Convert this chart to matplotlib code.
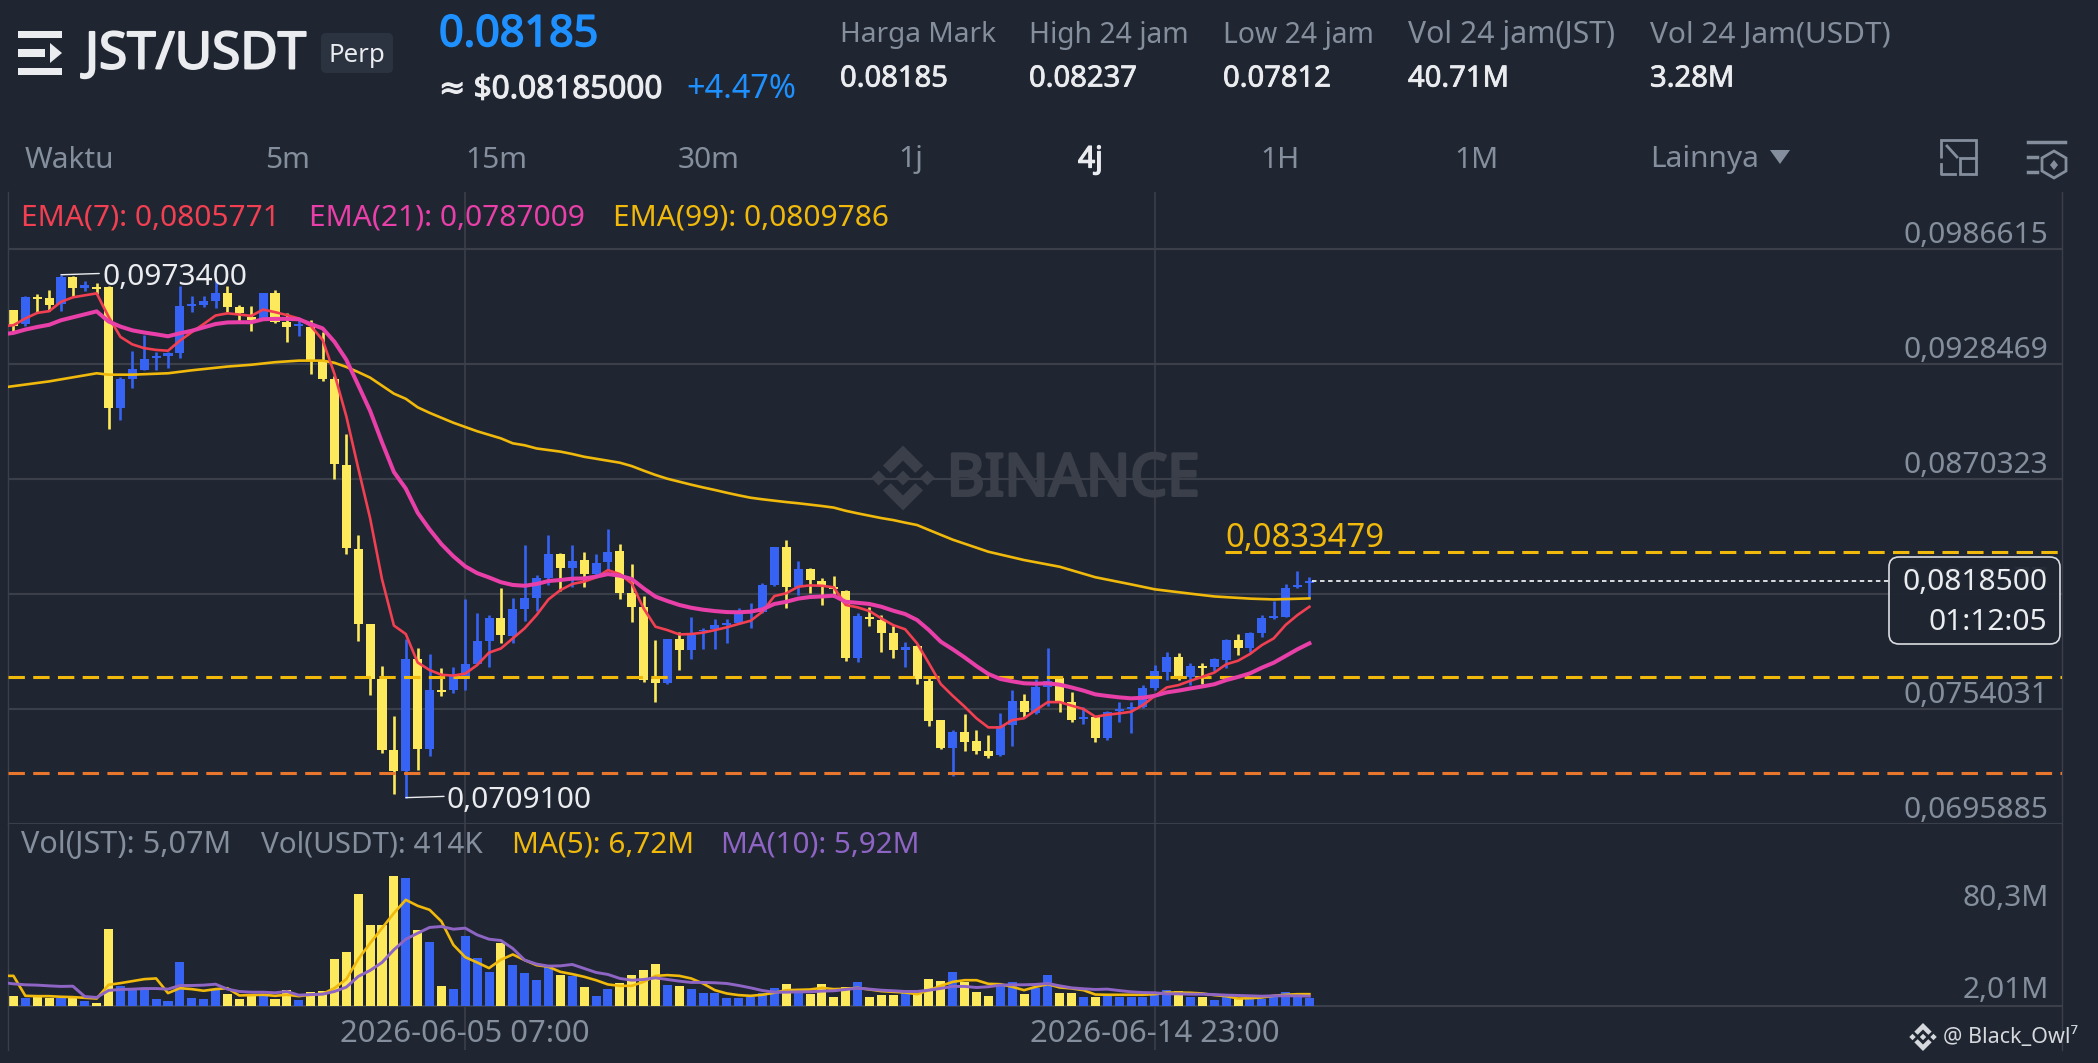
import numpy as np
from matplotlib import pyplot as plt
from matplotlib import patheffects
from matplotlib.patches import Polygon, Rectangle, FancyBboxPatch

W, H = 2098, 1063
plt.rcParams['font.family'] = ['Noto Sans', 'DejaVu Sans']
plt.rcParams['lines.scale_dashes'] = False

# prices below are in units of 0.00001 USDT
opens = [9556, 9485, 9622, 9616, 9588, 9723, 9668, 9672, 9672, 9061,
         9205, 9255, 9313, 9322, 9341, 9575, 9582, 9603, 9642, 9573,
         9522, 9513, 9644, 9494, 9476, 9472, 9302, 9208, 8774, 8348,
         7967, 7693, 7331, 7226, 7793, 7338, 7637, 7637, 7699, 7765,
         7884, 7997, 7908, 8046, 8102, 8201, 8322, 8253, 8290, 8221,
         8280, 8336, 8124, 8056, 7691, 7669, 7891, 7837, 7933, 7942,
         7962, 7972, 8022, 8031, 8164, 8356, 8157, 8245, 8186, 8157,
         8137, 7795, 8006, 7989, 7925, 7837, 7857, 7682, 7483, 7340,
         7424, 7375, 7328, 7306, 7456, 7579, 7517, 7652, 7694, 7573,
         7487, 7497, 7391, 7530, 7537, 7551, 7647, 7728, 7803, 7699,
         7758, 7753, 7787, 7888, 7846, 7921, 7999, 8004, 8154, 8174]
closes = [9476, 9622, 9610, 9579, 9723, 9666, 9680, 9663, 9061, 9205,
          9257, 9309, 9322, 9339, 9575, 9584, 9601, 9640, 9573, 9541,
          9507, 9642, 9494, 9472, 9485, 9302, 9205, 8778, 8354, 7967,
          7693, 7331, 7226, 7793, 7338, 7634, 7626, 7708, 7765, 7884,
          7997, 7913, 8044, 8100, 8201, 8322, 8253, 8287, 8221, 8275,
          8334, 8124, 8056, 7685, 7669, 7891, 7837, 7913, 7938, 7962,
          7972, 8031, 8039, 8166, 8356, 8157, 8245, 8191, 8164, 8144,
          7795, 8009, 7992, 7925, 7837, 7854, 7689, 7480, 7340, 7424,
          7374, 7328, 7303, 7455, 7579, 7522, 7652, 7682, 7573, 7483,
          7497, 7391, 7525, 7541, 7547, 7647, 7729, 7803, 7697, 7756,
          7746, 7790, 7888, 7846, 7921, 7999, 8011, 8151, 8166, 8185]
highs = [9556, 9625, 9635, 9659, 9734, 9728, 9700, 9691, 9678, 9219,
         9349, 9429, 9345, 9345, 9678, 9625, 9629, 9700, 9678, 9579,
         9575, 9642, 9657, 9541, 9513, 9504, 9444, 9223, 8928, 8419,
         7970, 7755, 7506, 7895, 7845, 7817, 7746, 7753, 8097, 8026,
         8014, 8152, 8098, 8368, 8218, 8418, 8329, 8368, 8331, 8321,
         8450, 8373, 8272, 8110, 7888, 7894, 7928, 8002, 7950, 7994,
         7994, 8051, 8076, 8174, 8359, 8391, 8289, 8253, 8203, 8211,
         8140, 8026, 8053, 8014, 7958, 7878, 7862, 7697, 7483, 7433,
         7514, 7433, 7409, 7517, 7635, 7615, 7692, 7847, 7702, 7627,
         7549, 7503, 7529, 7576, 7573, 7660, 7761, 7825, 7820, 7773,
         7770, 7797, 7893, 7916, 7928, 8014, 8083, 8169, 8236, 8204]
lows = [9451, 9476, 9541, 9550, 9550, 9620, 9650, 9638, 8952, 8999,
        9162, 9251, 9255, 9262, 9313, 9547, 9569, 9565, 9545, 9500,
        9448, 9504, 9489, 9392, 9425, 9233, 9199, 8703, 8322, 7884,
        7611, 7319, 7110, 7091, 7232, 7303, 7606, 7619, 7634, 7765,
        7753, 7874, 7871, 7985, 8036, 8166, 8137, 8154, 8157, 8208,
        8241, 8097, 7977, 7675, 7576, 7665, 7736, 7793, 7840, 7842,
        7871, 7969, 7948, 8026, 8161, 8051, 8115, 8124, 8066, 8107,
        7783, 7776, 7958, 7827, 7798, 7753, 7665, 7455, 7335, 7200,
        7328, 7311, 7291, 7301, 7352, 7497, 7514, 7554, 7522, 7472,
        7463, 7374, 7382, 7475, 7419, 7546, 7635, 7685, 7685, 7660,
        7665, 7731, 7748, 7812, 7825, 7905, 7996, 8002, 8151, 8098]

# first value of each line is where it enters the pane, half a candle before the first one
ema7 = [9476, 9479, 9513, 9541, 9550, 9597, 9620, 9630, 9640, 9522, 9420,
        9382, 9363, 9354, 9350, 9401, 9444, 9485, 9528, 9539, 9533,
        9526, 9558, 9545, 9530, 9513, 9476, 9405, 9233, 9018, 8756,
        8503, 8195, 7961, 7918, 7774, 7736, 7712, 7708, 7718, 7761,
        7824, 7845, 7896, 7947, 8014, 8093, 8140, 8171, 8183, 8204,
        8241, 8221, 8174, 8048, 7955, 7938, 7916, 7918, 7925, 7938,
        7952, 7969, 7985, 8031, 8110, 8124, 8157, 8164, 8162, 8154,
        8065, 8053, 8034, 7997, 7963, 7942, 7871, 7770, 7665, 7606,
        7551, 7492, 7446, 7446, 7483, 7492, 7534, 7574, 7574, 7556,
        7539, 7500, 7510, 7517, 7525, 7559, 7605, 7648, 7660, 7682,
        7702, 7723, 7765, 7783, 7817, 7862, 7896, 7964, 8014, 8056]
ema21 = [9436, 9440, 9457, 9470, 9481, 9504, 9519, 9534, 9549, 9498, 9472,
         9453, 9442, 9433, 9423, 9438, 9451, 9468, 9485, 9493, 9494,
         9494, 9509, 9511, 9511, 9509, 9485, 9463, 9395, 9304, 9176,
         9046, 8887, 8737, 8653, 8531, 8447, 8372, 8311, 8260, 8226,
         8204, 8180, 8166, 8162, 8171, 8186, 8191, 8198, 8199, 8208,
         8221, 8213, 8196, 8149, 8107, 8085, 8065, 8051, 8041, 8034,
         8029, 8028, 8031, 8043, 8070, 8081, 8097, 8105, 8108, 8112,
         8081, 8076, 8070, 8056, 8036, 8019, 7989, 7938, 7879, 7841,
         7800, 7756, 7716, 7691, 7679, 7669, 7667, 7669, 7662, 7648,
         7632, 7613, 7605, 7598, 7593, 7596, 7606, 7623, 7632, 7643,
         7653, 7664, 7685, 7701, 7719, 7748, 7773, 7807, 7841, 7871]
ema99_idx = [-0.5, 3, 7, 8, 10, 13, 15, 18, 20, 22, 24, 26, 27, 28, 29, 30, 32, 33, 34, 35, 37, 39,
             41, 42, 43, 44, 45, 46, 47, 48, 49, 50, 51, 52, 53, 54, 55, 56, 57, 58, 59, 60,
             61, 62, 63, 64, 65, 66, 67, 68, 69, 70, 71, 72, 73, 74, 75, 76, 77, 79, 82, 85,
             88, 91, 94, 96, 99, 101, 104, 106, 109]
ema99 = [9167, 9195, 9236, 9229, 9229, 9236, 9251, 9270, 9279, 9292, 9300, 9300, 9289, 9268, 9242,
         9214, 9133, 9107, 9064, 9036, 8986, 8943,
         8907, 8882, 8872, 8856, 8848, 8840, 8828, 8814, 8804, 8794, 8784, 8767, 8744, 8722, 8703,
         8688, 8673, 8659, 8646, 8632, 8619, 8607, 8599, 8592, 8585, 8579, 8572, 8565, 8557, 8541,
         8528, 8516, 8504, 8494, 8481, 8469, 8444, 8395, 8334, 8292, 8258, 8205, 8169, 8144, 8122,
         8108, 8097, 8093, 8098]

# volume in millions of JST
volumes = [8.5, 6.8, 7.9, 6.8, 6.8, 6.8, 4.3, 2.8, 65.2, 17.0,
           13.6, 14.2, 6.2, 4.3, 37.7, 6.8, 6.2, 13.1, 10.2, 5.7,
           8.8, 9.1, 5.5, 13.6, 5.1, 11.6, 12.5, 39.7, 46.2, 94.8,
           68.9, 68.9, 110.4, 108.4, 64.1, 54.2, 16.5, 14.5, 59.0, 41.1,
           29.2, 53.3, 34.6, 28.1, 21.8, 33.2, 26.1, 25.2, 16.2, 8.2,
           14.2, 19.0, 26.1, 30.4, 36.0, 17.6, 16.7, 14.2, 10.8, 11.1,
           6.8, 6.8, 7.7, 10.5, 14.8, 18.4, 12.8, 9.9, 18.4, 7.9,
           16.2, 20.1, 7.7, 9.1, 8.8, 11.9, 9.9, 23.0, 21.0, 28.7,
           20.4, 11.9, 8.5, 17.0, 19.9, 9.9, 14.8, 26.1, 10.8, 11.1,
           7.9, 7.4, 9.1, 7.7, 7.7, 7.7, 9.1, 13.6, 13.0, 7.7,
           7.9, 5.1, 7.1, 6.0, 6.2, 6.2, 7.7, 11.6, 8.5, 6.5]
ma5 = [25.5, 25.5, 8.5, 8.2, 8.2, 7.7, 7.4, 6.8, 6.2, 17.9, 19.3,
       21.0, 22.7, 23.3, 10.8, 15.0, 14.2, 12.8, 14.2, 15.0, 8.8,
       9.1, 9.4, 8.5, 9.4, 8.2, 9.4, 10.2, 15.0, 22.7, 39.7,
       53.3, 66.1, 78.9, 90.2, 85.1, 81.7, 71.8, 51.9, 41.4, 36.9,
       32.1, 39.2, 43.7, 38.9, 34.6, 33.2, 28.9, 27.0, 24.7, 21.8,
       18.2, 17.0, 17.0, 20.4, 25.5, 26.1, 25.5, 23.3, 19.0, 13.3,
       10.5, 9.1, 8.5, 9.4, 11.1, 13.3, 13.6, 13.9, 15.3, 14.2,
       14.5, 15.3, 13.9, 12.5, 11.9, 11.3, 9.9, 13.3, 17.0, 20.4,
       21.8, 21.8, 18.7, 18.4, 16.2, 13.3, 16.2, 18.4, 15.6, 14.8,
       13.3, 9.6, 9.4, 9.4, 9.4, 9.4, 9.9, 11.3, 11.3, 11.1,
       10.5, 9.1, 8.2, 6.2, 6.5, 7.1, 8.5, 9.4, 9.9, 9.9]
ma10 = [19.3, 18.7, 17.9, 17.6, 17.0, 16.5, 16.7, 7.9, 7.1, 13.1, 13.9,
        14.2, 14.7, 14.7, 14.2, 17.3, 17.3, 17.6, 18.4, 14.2, 12.2,
        11.6, 11.6, 11.1, 12.2, 9.1, 9.6, 9.9, 12.2, 15.9, 25.0,
        30.1, 36.9, 47.7, 56.7, 61.8, 66.7, 67.5, 65.2, 66.1, 60.4,
        56.7, 55.6, 48.8, 38.9, 35.5, 33.8, 34.0, 35.2, 31.8, 28.4,
        26.7, 23.3, 21.8, 22.4, 23.8, 22.4, 21.0, 19.9, 19.9, 19.6,
        19.0, 17.3, 15.3, 13.0, 11.6, 11.6, 11.9, 11.9, 12.5, 12.8,
        13.9, 15.0, 14.2, 13.3, 12.8, 12.2, 12.2, 13.3, 14.8, 16.5,
        16.5, 15.6, 16.2, 17.6, 17.9, 17.9, 18.2, 19.0, 17.0, 15.3,
        14.5, 13.9, 14.2, 13.0, 11.9, 11.3, 11.1, 10.2, 10.2, 9.9,
        9.9, 9.6, 9.1, 8.8, 8.5, 8.2, 8.5, 8.5, 8.5, 8.2]

price_ticks = [0.0986615, 0.0928469, 0.0870323, 0.0812177, 0.0754031, 0.0695885]
date_labels = [(38, '2026-06-05 07:00'), (96, '2026-06-14 23:00')]
header_stats = [('Harga Mark', '0.08185'), ('High 24 jam', '0.08237'), ('Low 24 jam', '0.07812'),
                ('Vol 24 jam(JST)', '40.71M'), ('Vol 24 Jam(USDT)', '3.28M')]
tabs = ['Waktu', '5m', '15m', '30m', '1j', '4j', '1H', '1M', 'Lainnya']
high_price, low_price = 0.09734, 0.07091
last_price = 0.08185
alert_top, alert_mid, alert_low = 0.0833479, 0.07699, 0.07215

BG = '#1f2631'
GRID = '#3a3f4a'
GRAY = '#848e9c'
WHITE = '#eaecef'
BLUE = '#3763f4'
YELLOW = '#fde95c'
RED = '#f23f52'
PINK = '#e83fa8'
GOLD = '#f0b90b'
ORANGE = '#e8762d'
PURPLE = '#8e65c4'
ACCENT = '#1e90ff'
FS = 21.5

opens, closes = np.array(opens) * 1e-5, np.array(closes) * 1e-5
highs, lows = np.array(highs) * 1e-5, np.array(lows) * 1e-5
ema7, ema21 = np.array(ema7) * 1e-5, np.array(ema21) * 1e-5
ema99 = np.array(ema99) * 1e-5
n = len(opens)
xs = np.arange(n)
line_x = np.r_[-0.5, xs]
colors = [BLUE if c >= o else YELLOW for o, c in zip(opens, closes)]


def px_rect(left, top, right, bottom):
    return [left / W, 1 - bottom / H, (right - left) / W, (bottom - top) / H]


fig = plt.figure(figsize=(W / 100, H / 100), dpi=100, facecolor=BG)

# panes, x axis is candle number, one candle is 11.89 px
PANE_L, PANE_R = 7.5, 2062
x_min, x_max = -0.5, (PANE_R - 13.33) / 11.89
ax = fig.add_axes(px_rect(PANE_L, 191.7, PANE_R, 823.8), facecolor=BG)
vol_ax = fig.add_axes(px_rect(PANE_L, 823.8, PANE_R, 1050), facecolor='none')
ov = fig.add_axes([0, 0, 1, 1], facecolor='none', zorder=10)
ov.set_xlim(0, W)
ov.set_ylim(H, 0)
ov.axis('off')

for a in (ax, vol_ax):
    a.set_xlim(x_min, x_max)
    a.set_xticks([])
    a.set_yticks([])
    for side in ('top', 'bottom'):
        a.spines[side].set_visible(False)
    for side in ('left', 'right'):
        a.spines[side].set_color(GRID)
        a.spines[side].set_linewidth(1)
    for i, _ in date_labels:
        a.axvline(i, color=GRID, lw=1.2, zorder=1)

# price pane
ax.set_ylim(price_ticks[-1], price_ticks[0] + 56.9 * 5.0549e-5)
for t in price_ticks:
    ax.axhline(t, color=GRID, lw=1.5, zorder=1)

def binance_logo(target, cx, cy, r, color, z):
    top = [(0, 1), (0.62, 0.38), (0.38, 0.155), (0, 0.536), (-0.38, 0.155), (-0.62, 0.38)]
    shapes = [top, [(x, -y) for x, y in top]]
    for dx in (-0.75, 0, 0.75):
        shapes.append([(dx - 0.23, 0), (dx, 0.23), (dx + 0.23, 0), (dx, -0.23)])
    for s in shapes:
        target.add_patch(Polygon([(cx + x * r, cy - y * r) for x, y in s], closed=True, fc=color, ec='none', zorder=z))


ax.vlines(xs, lows, highs, colors=colors, lw=1.9, zorder=2)
ax.bar(xs, np.abs(closes - opens), bottom=np.minimum(opens, closes), width=0.76, color=colors, zorder=2)

dash = (0, (11.8, 6))
ax.axhline(alert_mid, color=GOLD, lw=2.2, ls=dash, dash_capstyle='butt', zorder=3)
ax.axhline(alert_low, color=ORANGE, lw=2.2, ls=dash, dash_capstyle='butt', zorder=3)
ax.plot([(1225 - 13.33) / 11.89, x_max], [alert_top] * 2, color=GOLD, lw=2.2, ls=dash, dash_capstyle='butt', zorder=3)
ax.plot([n - 0.75, (1889 - 13.33) / 11.89], [last_price] * 2, color=WHITE, lw=1.3, ls=(0, (3.2, 2.6)), dash_capstyle='butt', zorder=3)

ax.plot(ema99_idx, ema99, color=GOLD, lw=1.9, zorder=4)
ax.plot(line_x, ema7, color=RED, lw=1.9, zorder=5)
ax.plot(line_x, ema21, color=PINK, lw=2.9, zorder=5)

for t in price_ticks:
    ax.annotate(f'{t:.7f}'.replace('.', ','), xy=(1, t), xycoords=('axes fraction', 'data'),
                xytext=(-14, 13), textcoords='offset pixels', ha='right', va='center', color=GRAY, fontsize=FS)

# high and low markers
ax.annotate(f'{high_price:.7f}'.replace('.', ','), xy=(4, high_price), xytext=(41, -3), textcoords='offset pixels',
            ha='left', va='center', color=WHITE, fontsize=FS, zorder=6,
            arrowprops=dict(arrowstyle='-', color=WHITE, lw=1, shrinkA=0, shrinkB=0, relpos=(0, 0.65)))
ax.annotate(f'{low_price:.7f}'.replace('.', ','), xy=(33, low_price), xytext=(41, -3), textcoords='offset pixels',
            ha='left', va='center', color=WHITE, fontsize=FS, zorder=6,
            arrowprops=dict(arrowstyle='-', color=WHITE, lw=1, shrinkA=0, shrinkB=0, relpos=(0, 0.65)))
ax.annotate(f'{alert_top:.7f}'.replace('.', ','), xy=((1225 - 13.33) / 11.89, alert_top), xytext=(0, 13),
            textcoords='offset pixels', ha='left', va='center', color=GOLD, fontsize=23.6)

# volume pane
vol_ax.set_ylim(-37.6, 154.9)
vol_ax.axhline(0, color=GRID, lw=1.5, zorder=1)
vol_ax.bar(xs, volumes, width=0.76, color=colors, zorder=2)
vol_ax.plot(line_x, ma5, color=GOLD, lw=1.9, zorder=3)
vol_ax.plot(line_x, ma10, color=PURPLE, lw=2.1, zorder=4)
for i, label in date_labels:
    vol_ax.text(i, -24, label, ha='center', va='center', color=GRAY, fontsize=22.3)


# everything below sits on the pixel overlay, heavy is a stroke width that fakes the bolder weights
def put(x, y, s, color=GRAY, size=FS, heavy=0, ha='left', z=2):
    t = ov.text(x, y, s, color=color, fontsize=size, ha=ha, va='center', zorder=z)
    if heavy:
        t.set_path_effects([patheffects.withStroke(linewidth=heavy, foreground=color)])


binance_logo(ov, 903, 478, 32.5, '#3a3f4a', 0)
put(1073, 480, 'BINANCE', '#3a3f4a', 42, heavy=2.2, ha='center', z=0)

# header
ov.add_patch(Rectangle((18, 31), 44, 7, fc=WHITE, ec='none'))
ov.add_patch(Rectangle((18, 68), 44, 7, fc=WHITE, ec='none'))
ov.add_patch(Rectangle((18, 49), 27, 8, fc=WHITE, ec='none'))
ov.add_patch(Polygon([(50, 43), (62, 53), (50, 63)], closed=True, fc=WHITE, ec='none'))
put(85, 55, 'JST/USDT', WHITE, 36.9, heavy=1.4)
ov.add_patch(FancyBboxPatch((325, 37), 64, 32, boxstyle='round,pad=4,rounding_size=5', fc='#2b3240', ec='none'))
put(357, 55, 'Perp', WHITE, 18.6, ha='center')
put(439, 35, '0.08185', ACCENT, 31, heavy=1.2)
put(439, 90, '≈ $0.08185000', WHITE, 22.7, heavy=0.8)
put(686, 90, '+4.47%', ACCENT, 23.4)
for (label, value), x, size in zip(header_stats, [840, 1029, 1223, 1408, 1650], [20.2, 20.4, 20.4, 21.7, 21.5]):
    put(x, 35, label, GRAY, size)
    put(x, 79, value, WHITE, 21, heavy=0.6)

for label, x in zip(tabs, [25, 265, 465, 678, 898, 1078, 1260, 1454, 1650]):
    if label == '4j':
        put(x, 160, label, WHITE, 21.5, heavy=0.9)
    else:
        put(x, 160, label, GRAY, 21.5)
ov.add_patch(Polygon([(1770, 150), (1790, 150), (1780, 164)], closed=True, fc=GRAY, ec='none'))

# the two small toolbar icons
ov.add_patch(Polygon([(1941, 158), (1941, 140), (1976, 140), (1976, 158)], closed=False, fc='none', ec=GRAY, lw=2))
ov.plot([1941, 1941, 1955], [164, 174, 174], color=GRAY, lw=2)
ov.add_patch(Rectangle((1960, 158), 16, 16, fc=BG, ec=GRAY, lw=2))
ov.plot([1947, 1957], [146, 157], color=GRAY, lw=2)
ov.plot([2028, 2065], [142, 142], color=GRAY, lw=2.5)
ov.plot([2028, 2037], [157, 157], color=GRAY, lw=2.5)
ov.plot([2028, 2037], [172, 172], color=GRAY, lw=2.5)
ov.add_patch(Polygon([(2054, 151), (2066, 158), (2066, 171), (2054, 178), (2042, 171), (2042, 158)], closed=True, fc='none', ec=GRAY, lw=2))
ov.add_patch(Polygon([(2054, 160), (2058, 165), (2054, 170), (2050, 165)], closed=True, fc=GRAY, ec='none'))

# legends
put(21, 218, 'EMA(7): 0,0805771', RED)
put(309, 218, 'EMA(21): 0,0787009', PINK)
put(613, 218, 'EMA(99): 0,0809786', GOLD)
put(21, 845, 'Vol(JST): 5,07M', size=22)
put(261, 845, 'Vol(USDT): 414K', size=21.3)
put(512, 845, 'MA(5): 6,72M', GOLD, 21.4)
put(721, 845, 'MA(10): 5,92M', PURPLE, 21.3)
put(2049, 898, '80,3M', ha='right')
put(2049, 990, '2,01M', ha='right')

# last price box
ov.add_patch(FancyBboxPatch((1893, 561), 163, 79, boxstyle='round,pad=4,rounding_size=10', fc=BG, ec=WHITE, lw=1.2, alpha=0.93))
put(2047, 582, '0,0818500', WHITE, ha='right')
put(2047, 622, '01:12:05', WHITE, ha='right')

binance_logo(ov, 1923, 1037, 14, '#d5d8dc', 3)
put(1943, 1037, '@ Black_Owl⁷', '#d5d8dc', 15.5)

fig.savefig('out.png', dpi=100, facecolor=BG)
